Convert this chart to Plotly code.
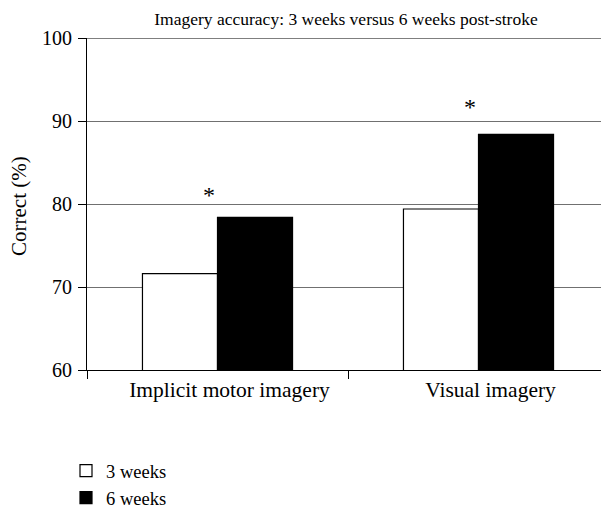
import plotly.graph_objects as go

categories = ["Implicit motor imagery", "Visual imagery"]
weeks3 = [71.6, 79.4]
weeks6 = [78.4, 88.4]
star_y = [81.1, 91.7]
yticks = [60, 70, 80, 90, 100]

FONT = "Liberation Serif"
W, H = 601, 501  # page body has an 8px margin

fig = go.Figure()
fig.add_trace(go.Bar(x=categories, y=weeks3, name="3 weeks",
                     marker=dict(color="white", line=dict(color="black", width=1.2))))
fig.add_trace(go.Bar(x=categories, y=weeks6, name="6 weeks",
                     marker=dict(color="black", line=dict(color="black", width=1.2))))

for c, sy in zip(categories, star_y):
    fig.add_annotation(x=c, y=sy, text="*", showarrow=False, xshift=-9,
                       font=dict(family=FONT, size=24, color="black"))

fig.add_annotation(text="Correct (%)", textangle=-90, showarrow=False,
                   xref="paper", yref="paper", x=(11 - 79) / 522, y=(362 - 198) / 332,
                   xanchor="center", yanchor="middle",
                   font=dict(family=FONT, size=21, color="black"))

fig.update_layout(
    width=W, height=H,
    margin=dict(l=79, r=0, t=30, b=139, autoexpand=False),
    plot_bgcolor="white", paper_bgcolor="white",
    barmode="group", bargap=0.425, bargroupgap=0,
    font=dict(family=FONT, size=20, color="black"),
    title=dict(text="Imagery accuracy: 3 weeks versus 6 weeks post-stroke",
               x=338 / W, xanchor="center", y=1 - 11 / H, yanchor="middle",
               font=dict(family=FONT, size=17.5, color="black")),
    xaxis=dict(showline=True, linecolor="black", linewidth=1.2,
               ticks="outside", tickson="boundaries", ticklen=8, tickcolor="black",
               showgrid=False, range=[-0.5, 1.5], ticklabelshift=12,
               tickfont=dict(family=FONT, size=21.5)),
    yaxis=dict(range=[60, 100], tickvals=yticks, showline=True, linecolor="black",
               linewidth=1.2, ticks="outside", ticklen=8, tickcolor="black",
               showgrid=True, gridcolor="#707070", gridwidth=1, zeroline=False,
               ticklabelstandoff=2,
               tickfont=dict(family=FONT, size=20)),
    legend=dict(orientation="v", xref="container", yref="container",
                x=58 / W, y=1 - 444 / H, xanchor="left", yanchor="top",
                font=dict(family=FONT, size=18.5), tracegroupgap=0,
                itemwidth=30, bgcolor="rgba(0,0,0,0)"),
    showlegend=True,
)
fig.add_hline(y=100, line=dict(color="black", width=1.2))

fig.write_html("out.html")
